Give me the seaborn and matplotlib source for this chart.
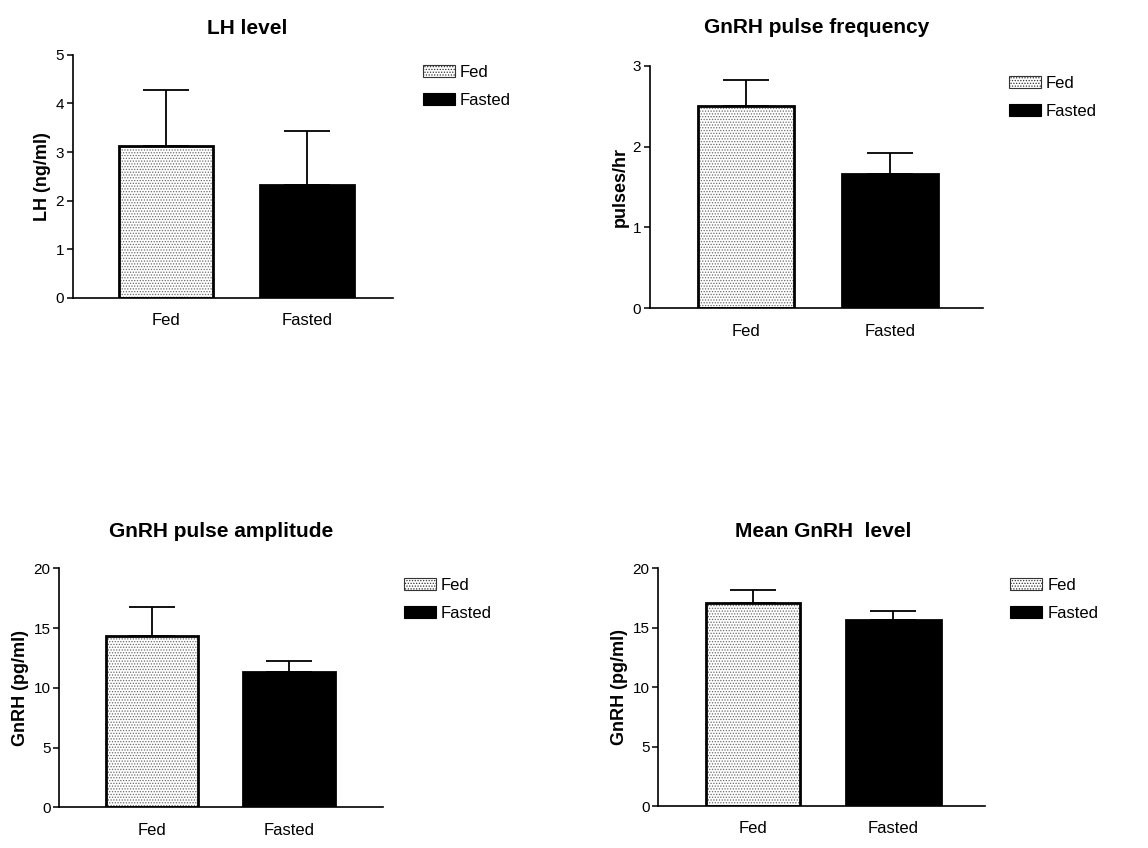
import matplotlib
matplotlib.use("Agg")
import matplotlib.pyplot as plt
import seaborn as sns
import pandas as pd
from matplotlib.patches import Patch, Rectangle

# ---------------- data ----------------
groups = ["Fed", "Fasted"]
titles = ["LH level", "GnRH pulse frequency", "GnRH pulse amplitude", "Mean GnRH  level"]
ylabels = ["LH (ng/ml)", "pulses/hr", "GnRH (pg/ml)", "GnRH (pg/ml)"]
lh_mean = [3.13, 2.32]
lh_sem = [1.15, 1.12]
freq_mean = [2.50, 1.66]
freq_sem = [0.32, 0.26]
amp_mean = [14.36, 11.35]
amp_sem = [2.38, 0.92]
level_mean = [17.11, 15.66]
level_sem = [1.07, 0.78]
y_max = [5, 3, 20, 20]
y_step = [1, 1, 5, 5]

means = [lh_mean, freq_mean, amp_mean, level_mean]
sems = [lh_sem, freq_sem, amp_sem, level_sem]

# ---------------- style ----------------
sns.set_theme(style="ticks")
plt.rcParams["font.family"] = ["Liberation Sans", "DejaVu Sans"]
for k in ["text.color", "axes.labelcolor", "xtick.color", "ytick.color", "axes.edgecolor"]:
    plt.rcParams[k] = "black"
plt.rcParams["hatch.linewidth"] = 0.6

fig = plt.figure(figsize=(11.48, 8.48), dpi=100)

# axes rectangles (figure fractions)
rects = [
    [0.0633, 0.649, 0.2787, 0.2862],
    [0.5662, 0.6364, 0.2901, 0.2861],
    [0.0517, 0.048, 0.2817, 0.2818],
    [0.5734, 0.0495, 0.2846, 0.2803],
]
xlims = [(-0.665, 1.609), (-0.670, 1.647), (-0.672, 1.680), (-0.671, 1.651)]
title_pads = [15, 23.5, 22.5, 22.5]
title_x = [0.544, 0.5, 0.5, 0.505]
legend_anchor = [(1.095, 0.958), (1.078, 0.958), (1.066, 0.960), (1.077, 0.960)]
HATCH = "......"

for i in range(4):
    ax = fig.add_axes(rects[i])
    df = pd.DataFrame({"group": groups, "value": means[i]})
    sns.barplot(data=df, x="group", y="value", hue="group",
                palette={"Fed": "white", "Fasted": "black"},
                width=0.67, errorbar=None, legend=False, ax=ax,
                edgecolor="black", linewidth=2, order=groups, hue_order=groups)
    # dotted texture for the Fed bar
    p = ax.patches[0]
    p.set_hatch(HATCH)
    p.set_edgecolor("#6a6a6a")
    p.set_linewidth(0)
    ax.add_patch(Rectangle((p.get_x(), p.get_y()), p.get_width(), p.get_height(),
                           fill=False, edgecolor="black", linewidth=2, zorder=p.get_zorder() + 0.1))
    # error bars (upper only)
    xs = list(range(len(groups)))
    ax.errorbar(xs, means[i], yerr=[[0] * len(groups), sems[i]], fmt="none",
                ecolor="black", elinewidth=1.3, capsize=16.5, capthick=1.3, zorder=1)

    ax.set_xlim(*xlims[i])
    ax.set_ylim(0, y_max[i])
    ax.set_yticks(range(0, y_max[i] + 1, y_step[i]))
    ax.set_xlabel("")
    ax.set_ylabel(ylabels[i], fontsize=13, fontweight="bold", labelpad=3)
    ax.set_title(titles[i], fontsize=15, fontweight="bold", pad=title_pads[i], x=title_x[i])
    ax.tick_params(axis="x", length=0, pad=11, labelsize=12)
    ax.tick_params(axis="y", length=4.3, width=1.1, pad=2, labelsize=11)
    sns.despine(ax=ax)
    for s in ["left", "bottom"]:
        ax.spines[s].set_linewidth(1.2)
        ax.spines[s].set_color("black")

    handles = [Patch(facecolor="white", edgecolor="#333333", hatch=HATCH, linewidth=0.8),
               Patch(facecolor="black", edgecolor="black", linewidth=0.8)]
    ax.legend(handles, groups, loc="upper left", bbox_to_anchor=legend_anchor[i],
              frameon=False, fontsize=12, borderpad=0, borderaxespad=0,
              handlelength=1.92, handleheight=0.7, handletextpad=0.3,
              labelspacing=0.78)

fig.savefig("out.png", dpi=100)
